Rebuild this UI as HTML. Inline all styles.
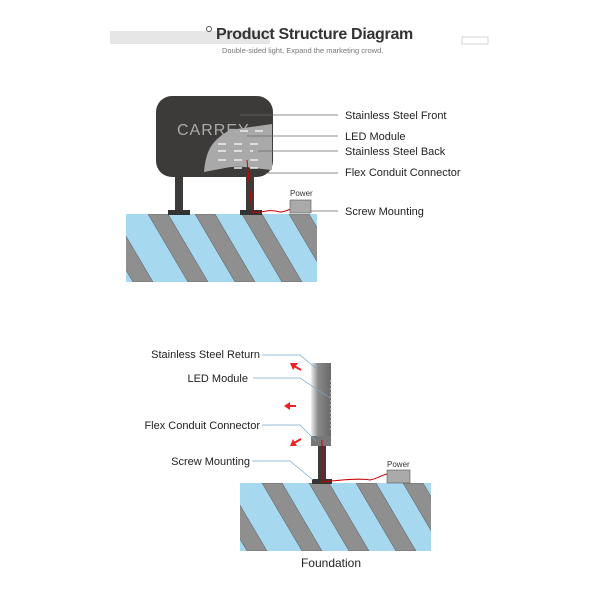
<!DOCTYPE html>
<html><head><style>body{margin:0;background:#fff}svg{display:block}</style></head><body>
<svg width="600" height="600" viewBox="0 0 600 600" xmlns="http://www.w3.org/2000/svg" font-family="Liberation Sans, sans-serif">
<defs>
<clipPath id="c1"><rect x="126" y="214" width="191" height="68"/></clipPath>
<clipPath id="c2"><rect x="240" y="483" width="191" height="68"/></clipPath>
<g id="stripes">
<rect x="0" y="0" width="191" height="68" fill="#a6d8f0"/>
<g fill="#8f8f8f" stroke="#555" stroke-width="0.5">
<polygon points="-80,0 -60,0 -20,68 -40,68"/>
<polygon points="-33,0 -13,0 27,68 7,68"/>
<polygon points="22,0 42,0 82,68 62,68"/>
<polygon points="69,0 89,0 129,68 109,68"/>
<polygon points="116,0 136,0 176,68 156,68"/>
<polygon points="163,0 183,0 223,68 203,68"/>
</g>
</g>
<linearGradient id="col" x1="0" x2="1"><stop offset="0" stop-color="#f0f0f0"/><stop offset="0.35" stop-color="#8a8a8a"/><stop offset="1" stop-color="#6a6868"/></linearGradient>
</defs>
<rect x="110" y="31" width="160" height="13" fill="#e6e6e6"/>
<circle cx="209" cy="29" r="2.5" fill="none" stroke="#555" stroke-width="1"/>
<text x="216" y="39" font-size="16" fill="#333" font-weight="bold" letter-spacing="-0.3">Product Structure Diagram</text>
<text x="222" y="53" font-size="7.5" fill="#777">Double-sided light,   Expand the marketing crowd.</text>
<rect x="462" y="37" width="26" height="7" fill="none" stroke="#ccc" stroke-width="0.8"/>

<g clip-path="url(#c1)"><use href="#stripes" x="126" y="214"/></g>
<rect x="175" y="175" width="8" height="39" fill="#3d3a3a"/>
<rect x="246" y="175" width="8" height="39" fill="#3d3a3a"/>
<rect x="168" y="210" width="22" height="5" fill="#333"/>
<rect x="240" y="210" width="22" height="5" fill="#333"/>
<rect x="156" y="96" width="117" height="81" rx="16" fill="#3d3a3a"/>
<text x="177" y="135" font-size="16" fill="#aaa" letter-spacing="1">CARREY</text>
<path d="M204 172 C206 150 212 140 230 130 L272 124 L272 170 C250 168 240 165 225 168 Z" fill="#a9a9a9"/>
<g stroke="#eee" stroke-width="1.5">
<line x1="218" y1="144" x2="226" y2="144"/><line x1="234" y1="144" x2="242" y2="144"/><line x1="250" y1="144" x2="258" y2="144"/>
<line x1="218" y1="151" x2="226" y2="151"/><line x1="234" y1="151" x2="242" y2="151"/><line x1="250" y1="151" x2="258" y2="151"/>
<line x1="218" y1="160" x2="226" y2="160"/><line x1="234" y1="160" x2="242" y2="160"/><line x1="250" y1="160" x2="258" y2="160"/>
<line x1="234" y1="168" x2="242" y2="168"/><line x1="250" y1="168" x2="258" y2="168"/>
<line x1="240" y1="131" x2="248" y2="131"/><line x1="255" y1="131" x2="263" y2="131"/>
</g>
<path d="M247 160 L252 212 C260 214 268 208 280 212 C286 212 290 208 292 210" fill="none" stroke="#c00" stroke-width="1"/>
<rect x="290" y="200" width="21" height="13" fill="#aaa" stroke="#555" stroke-width="0.6"/>
<text x="290" y="196" font-size="8" fill="#333">Power</text>
<g stroke="#666" stroke-width="0.7">
<line x1="240" y1="115" x2="338" y2="115"/><line x1="247" y1="136" x2="338" y2="136"/>
<line x1="253" y1="151" x2="338" y2="151"/><line x1="265" y1="173" x2="338" y2="173"/>
<line x1="311" y1="211" x2="338" y2="211"/>
</g>
<g font-size="11" fill="#222">
<text x="345" y="119">Stainless Steel Front</text>
<text x="345" y="140">LED Module</text>
<text x="345" y="155">Stainless Steel Back</text>
<text x="345" y="176">Flex Conduit Connector</text>
<text x="345" y="215">Screw Mounting</text>
</g>

<g clip-path="url(#c2)"><use href="#stripes" x="240" y="483"/></g>
<rect x="318" y="446" width="8" height="37" fill="#3d3a3a"/>
<rect x="312" y="479" width="20" height="5" fill="#333"/>
<rect x="311" y="363" width="20" height="83" fill="url(#col)"/>
<rect x="311" y="436" width="20" height="10" fill="#777"/>
<line x1="331" y1="380" x2="331" y2="430" stroke="#ddd" stroke-dasharray="2,2"/>
<path d="M322 440 L322 482 C340 480 360 478 370 480 C380 478 383 474 388 474" fill="none" stroke="#c00" stroke-width="1"/>
<rect x="387" y="470" width="23" height="13" fill="#aaa" stroke="#555" stroke-width="0.6"/>
<text x="387" y="467" font-size="8" fill="#333">Power</text>
<g stroke="#e22" stroke-width="2">
<line x1="301" y1="370" x2="294" y2="366"/>
<line x1="296" y1="406" x2="288" y2="406"/>
<line x1="301" y1="439" x2="294" y2="443"/>
</g>
<g fill="#e22">
<polygon points="290,363 298,363 293,370"/>
<polygon points="284,406 290,402 290,410"/>
<polygon points="290,446 293,439 297,446"/>
</g>
<g stroke="#7ac" stroke-width="0.7" fill="none">
<polyline points="262,355 300,355 318,370"/><polyline points="253,378 300,378 330,398"/>
<polyline points="262,425 300,425 316,441"/><polyline points="252,461 290,461 313,480"/>
</g>
<g font-size="11" fill="#222" text-anchor="end">
<text x="260" y="358">Stainless Steel Return</text>
<text x="248" y="382">LED Module</text>
<text x="260" y="429">Flex Conduit Connector</text>
<text x="250" y="465">Screw Mounting</text>
</g>
<text x="331" y="567" font-size="12" fill="#222" text-anchor="middle">Foundation</text>
</svg>
</body></html>
